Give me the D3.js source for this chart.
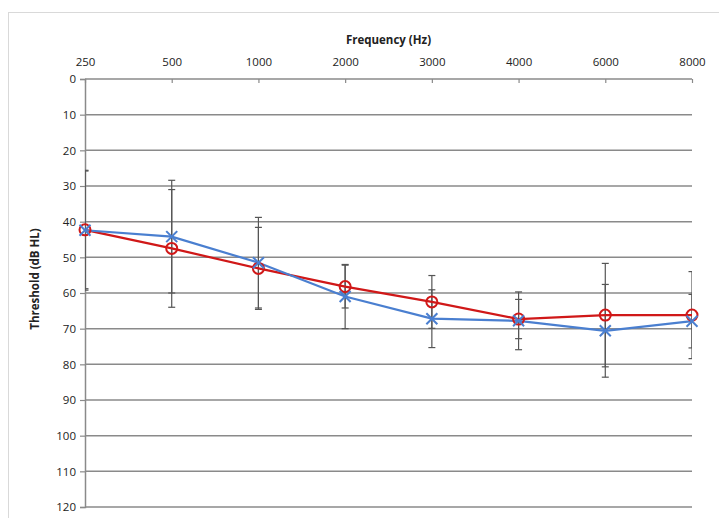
<!DOCTYPE html>
<html><head><meta charset="utf-8">
<script src="https://cdn.jsdelivr.net/npm/d3@7"></script>
<style>body{margin:0;background:#fff}svg{display:block}text{font-family:"Open Sans",sans-serif}</style>
</head><body><svg id="c" width="719" height="518"></svg>
<script>
const frequencies = ["250","500","1000","2000","3000","4000","6000","8000"];
const redValues  = [42.3, 47.5, 53.1, 58.2, 62.5, 67.3, 66.2, 66.2];
const redErrors  = [16.5, 16.5, 11.5, 6.0, 7.4, 5.5, 14.5, 12.2];
const blueValues = [42.4, 44.2, 51.5, 61.0, 67.2, 67.8, 70.6, 67.9];
const blueErrors = [16.8, 15.8, 12.7, 9.0, 8.1, 8.1, 13.0, 7.5];
const yTicks = [0,10,20,30,40,50,60,70,80,90,100,110,120];

const svg = d3.select("#c");
const m = {left:85, right:692, top:79, bottom:507};
const x = d3.scalePoint().domain(frequencies).range([m.left, m.right]);
const y = d3.scaleLinear().domain([0,120]).range([m.top, m.bottom]);

// chart border
svg.append("rect").attr("x",8.5).attr("y",12.5).attr("width",730).attr("height",530)
  .attr("fill","none").attr("stroke","#d9d9d9").attr("stroke-width",1);

// gridlines
svg.append("g").selectAll("line").data(yTicks).join("line")
  .attr("x1",m.left).attr("x2",m.right).attr("y1",d=>y(d)).attr("y2",d=>y(d))
  .attr("stroke","#8a8a8a").attr("stroke-width",1.5);

// y axis
const yAxis = svg.append("g").attr("transform",`translate(${m.left},0)`)
  .call(d3.axisLeft(y).tickValues(yTicks).tickSize(5).tickPadding(4));
yAxis.select(".domain").attr("stroke","#8a8a8a").attr("stroke-width",1.5);
yAxis.selectAll(".tick line").attr("stroke","#8a8a8a").attr("stroke-width",1.2);
yAxis.selectAll("text").attr("font-size",11.5).attr("fill","#222");

// x axis on top
const xAxis = svg.append("g").attr("transform",`translate(0,${m.top})`)
  .call(d3.axisTop(x).tickSize(-4).tickPadding(13));
xAxis.select(".domain").remove();
xAxis.selectAll(".tick line").attr("stroke","#8a8a8a").attr("stroke-width",1.2);
xAxis.selectAll("text").attr("font-size",11.5).attr("fill","#222");

svg.append("text").attr("x",(m.left+m.right)/2).attr("y",44).attr("text-anchor","middle")
  .attr("font-size",11.5).attr("font-weight","bold").attr("fill","#222").text("Frequency (Hz)");
svg.append("text").attr("transform","translate(39,279) rotate(-90)").attr("text-anchor","middle")
  .attr("font-size",11.5).attr("font-weight","bold").attr("fill","#222").text("Threshold (dB HL)");

// clip for error bars
svg.append("clipPath").attr("id","pa").append("rect")
  .attr("x",m.left).attr("y",0).attr("width",m.right-m.left).attr("height",518);

function errorBars(vals, errs){
  const g = svg.append("g").attr("clip-path","url(#pa)").attr("stroke","#555").attr("stroke-width",1.2);
  frequencies.forEach((f,i)=>{
    const cx = x(f), y1 = y(vals[i]-errs[i]), y2 = y(vals[i]+errs[i]);
    g.append("line").attr("x1",cx).attr("x2",cx).attr("y1",y1).attr("y2",y2);
    g.append("line").attr("x1",cx-3.5).attr("x2",cx+3.5).attr("y1",y1).attr("y2",y1);
    g.append("line").attr("x1",cx-3.5).attr("x2",cx+3.5).attr("y1",y2).attr("y2",y2);
  });
}
errorBars(redValues, redErrors);
errorBars(blueValues, blueErrors);

const line = d3.line().x((d,i)=>x(frequencies[i])).y(d=>y(d));
svg.append("path").datum(redValues).attr("d",line).attr("fill","none")
  .attr("stroke","#d01818").attr("stroke-width",2.2);
svg.append("path").datum(blueValues).attr("d",line).attr("fill","none")
  .attr("stroke","#4a7fd0").attr("stroke-width",2.2);

svg.append("g").selectAll("circle").data(redValues).join("circle")
  .attr("cx",(d,i)=>x(frequencies[i])).attr("cy",d=>y(d)).attr("r",5.5)
  .attr("fill","none").attr("stroke","#d01818").attr("stroke-width",2);

const bx = svg.append("g").attr("stroke","#4a7fd0").attr("stroke-width",2);
blueValues.forEach((v,i)=>{
  const cx = x(frequencies[i]), cy = y(v), s=5.5;
  bx.append("line").attr("x1",cx-s).attr("x2",cx+s).attr("y1",cy-s).attr("y2",cy+s);
  bx.append("line").attr("x1",cx-s).attr("x2",cx+s).attr("y1",cy+s).attr("y2",cy-s);
});
</script></body></html>
